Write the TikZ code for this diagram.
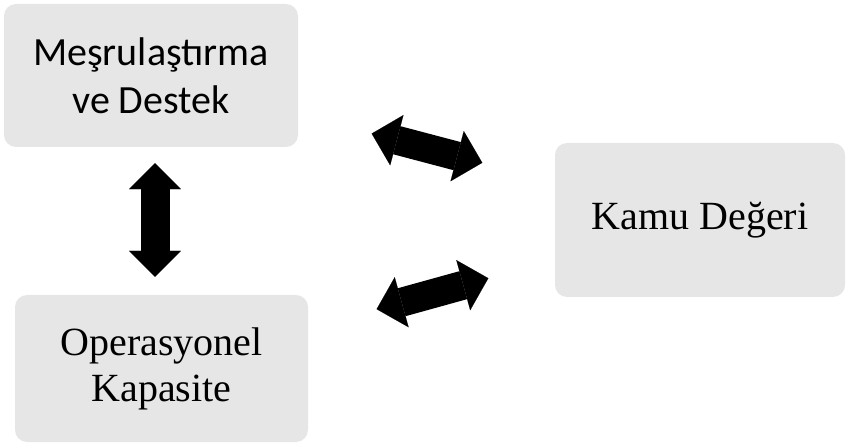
\documentclass[tikz,border=0pt]{standalone}
\usepackage{fontspec}
\setmainfont{Liberation Serif}
\newfontfamily\calibrifont{Carlito}
\usetikzlibrary{arrows.meta}
\definecolor{boxgray}{HTML}{E7E6E6}
\tikzset{
  box/.style={fill=boxgray,rounded corners=12pt,align=center,inner sep=0pt,
    font=\fontsize{40}{46}\selectfont},
  sansbox/.style={box,font=\calibrifont\fontsize{40}{48}\selectfont},
  twoway/.style={line width=29pt,
    {Triangle[width=52pt,length=26pt,line width=0.1pt]}-{Triangle[width=52pt,length=26pt,line width=0.1pt]}}
}
\begin{document}
\begin{tikzpicture}[x=1pt,y=-1pt]
  \useasboundingbox (0,0) rectangle (846,446);
  \node[sansbox,minimum width=294pt,minimum height=143pt] (legit) at (151,75.5) {Meşrulaştırma\\ve Destek};
  \node[box,minimum width=293pt,minimum height=147pt] (ops) at (161.5,368.5) {Operasyonel\\Kapasite};
  \node[box,minimum width=290pt,minimum height=154pt] (value) at (700,220) {Kamu Değeri};
  \draw[twoway,shorten <=16pt,shorten >=18pt] ([xshift=4pt]legit.south) -- ([xshift=-6.5pt]ops.north);
  \draw[twoway,shorten <=76pt,shorten >=75pt] (legit) -- (value);
  \draw[twoway,shorten <=71pt,shorten >=69pt] (ops) -- (value);
\end{tikzpicture}
\end{document}
